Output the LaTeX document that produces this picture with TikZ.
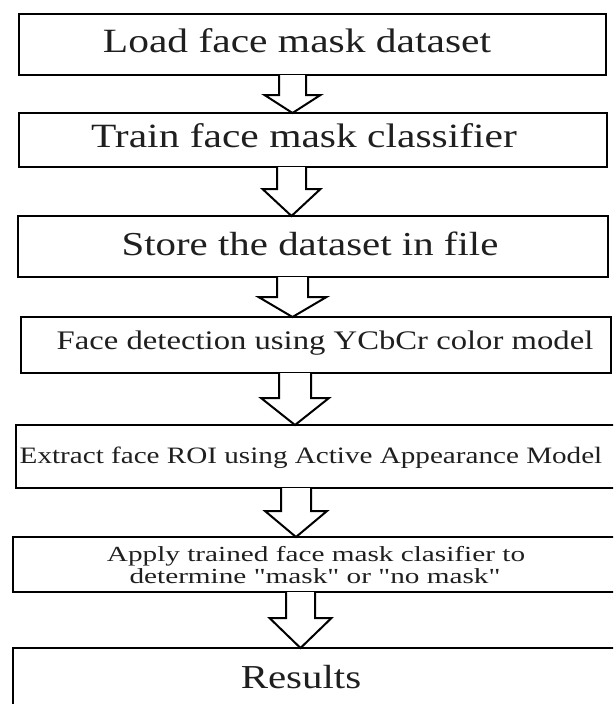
\documentclass[tikz,border=0pt]{standalone}
\usepackage{fontspec}
\setmainfont{Liberation Serif}
\newfontfamily\qfont{Liberation Serif}[Ligatures=ResetAll]
\usetikzlibrary{calc}
\tikzset{
  box/.style={draw=black, line width=2.2pt, fill=white, inner sep=0pt, outer sep=0pt, rectangle},
  lbl/.style={anchor=base, inner sep=0pt, text=black!88},
  arrowline/.style={draw=black, line width=2pt, line join=miter, fill=white},
}
\newcommand\farrow[6]{%
  \draw[arrowline] let \p1=(#1.south), \p2=(#2.north) in
   (#3pt-#4pt,\y1) -- (#3pt-#4pt,\y2+#6pt) -- (#3pt-#5pt,\y2+#6pt) -- (#3pt,\y2)
   -- (#3pt+#5pt,\y2+#6pt) -- (#3pt+#4pt,\y2+#6pt) -- (#3pt+#4pt,\y1);}
\newcommand\wt[2]{\scalebox{#1}[1]{#2}}
\newcommand\sq{{\qfont\char34\relax}}
\begin{document}
\begin{tikzpicture}[x=1pt,y=-1pt]
\useasboundingbox (0,0) rectangle (613,704);
\clip (0,0) rectangle (613,704);
\fill[white] (0,0) rectangle (613,704);
% boxes
\node[box, minimum width=587pt, minimum height=61pt] (b1) at (312.5,44.5) {};
\node[box, minimum width=588pt, minimum height=54pt] (b2) at (313,140) {};
\node[box, minimum width=590pt, minimum height=61pt] (b3) at (313,246.5) {};
\node[box, minimum width=590pt, minimum height=56pt] (b4) at (316,345) {};
\node[box, minimum width=624pt, minimum height=63pt] (b5) at (328,456.5) {};
\node[box, minimum width=627pt, minimum height=55pt] (b6) at (326.5,564.5) {};
\node[box, minimum width=627pt, minimum height=72pt] (b7) at (326.5,684) {};
% texts
\node[lbl, font=\fontsize{34}{40}\selectfont] (t1) at (297,52) {\wt{1.22}{Load face mask dataset}};
\node[lbl, font=\fontsize{34}{40}\selectfont] (t2) at (304,147) {\wt{1.22}{Train face mask classifier}};
\node[lbl, font=\fontsize{33.5}{40}\selectfont] (t3) at (310,255) {\wt{1.22}{Store the dataset in file}};
\node[lbl, font=\fontsize{26.8}{32}\selectfont] (t4) at (325,349) {\wt{1.22}{Face detection using YCbCr color model}};
\node[lbl, font=\fontsize{23.5}{28}\selectfont] (t5) at (311,463) {\wt{1.24}{Extract face ROI using Active Appearance Model}};
\node[lbl, font=\fontsize{21.5}{26}\selectfont] (t6a) at (316,561) {\wt{1.36}{Apply trained face mask clasifier to}};
\node[lbl, font=\fontsize{21.5}{26}\selectfont] (t6b) at (315,583) {\wt{1.36}{determine \sq mask\sq{} or \sq no mask\sq}};
\node[lbl, font=\fontsize{33.5}{40}\selectfont] (t7) at (301,688) {\wt{1.22}{Results}};
% arrows
\farrow{b1}{b2}{292.5}{13.5}{28}{18}
\farrow{b2}{b3}{291.5}{14.5}{29}{27}
\farrow{b3}{b4}{292.5}{15.5}{34}{20}
\farrow{b4}{b5}{295}{16}{34}{27}
\farrow{b5}{b6}{296}{15}{31}{26}
\farrow{b6}{b7}{300.5}{14.5}{31}{30}
\end{tikzpicture}
\end{document}
